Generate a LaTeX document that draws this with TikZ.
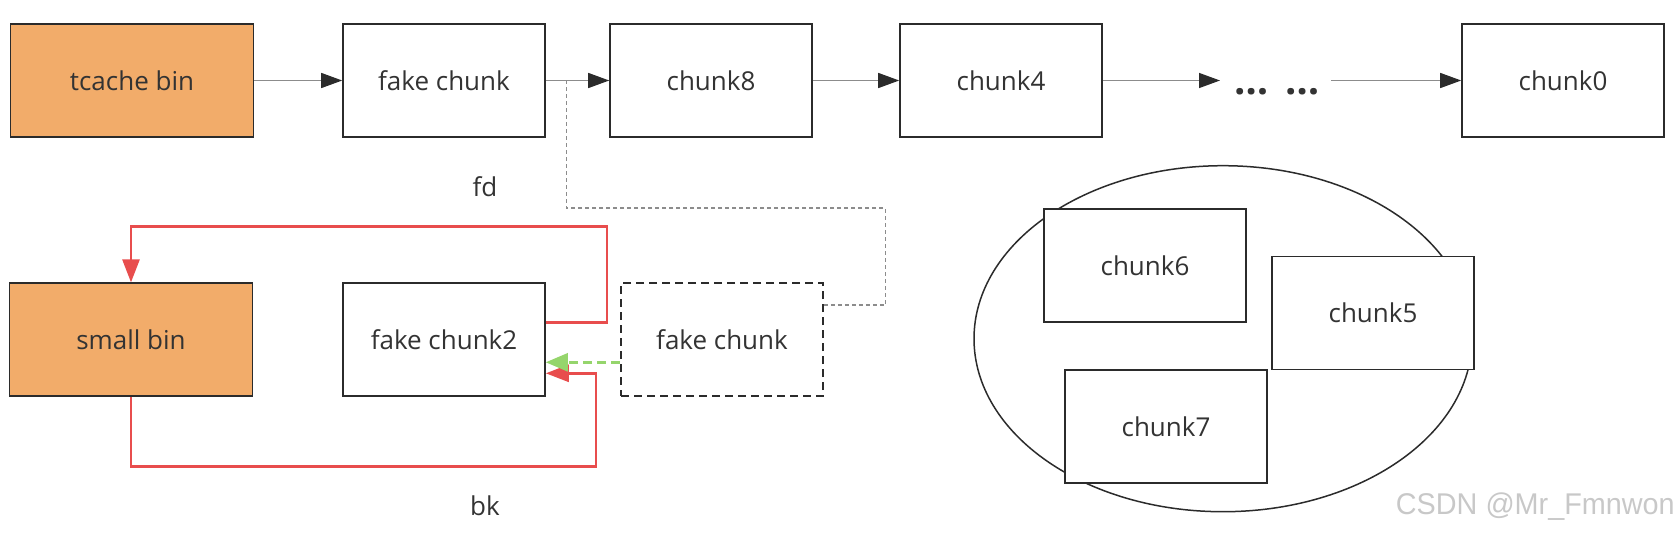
\documentclass[tikz,border=0pt]{standalone}
\usepackage{fontspec}
\setmainfont{Open Sans}
\newfontfamily\wmfont{Liberation Sans}
\usetikzlibrary{arrows.meta,calc}
\definecolor{boxline}{HTML}{2B2B2B}
\definecolor{binfill}{HTML}{F2AC6A}
\definecolor{txt}{HTML}{333333}
\definecolor{lgray}{HTML}{8C8C8C}
\definecolor{redc}{HTML}{E84D4D}
\definecolor{greenc}{HTML}{95D56C}
\definecolor{wm}{HTML}{C8C8C8}
\tikzset{
  cbox/.style={draw=boxline, line width=1.6pt, fill=white, minimum width=202pt, minimum height=113pt, inner sep=0pt, text=txt, font=\fontsize{26}{30}\selectfont},
  binbox/.style={cbox, fill=binfill, minimum width=243pt},
  dbox/.style={cbox, dashed, dash pattern=on 8pt off 5pt},
  arr/.style={draw=lgray, line width=1.4pt, -{Triangle[length=21pt,width=15pt,fill=boxline,color=boxline]}},
  dline/.style={draw=lgray, line width=1.2pt, dash pattern=on 4pt off 3pt},
  redarr/.style={draw=redc, line width=2.6pt, -{Triangle[length=23pt,width=17pt]}},
  greenarr/.style={draw=greenc, line width=2.6pt, dash pattern=on 9pt off 5pt, -{Triangle[length=22pt,width=18pt,sep=0pt]}},
  lbl/.style={text=txt, font=\fontsize{26}{30}\selectfont, inner sep=0pt}
}
\begin{document}
\begin{tikzpicture}[x=1pt,y=-1pt]
\useasboundingbox (0,0) rectangle (1676,536);
% ellipse first
\draw[boxline, line width=1.5pt] (1223,338.7) ellipse [x radius=249pt, y radius=173pt];
% top row
\node[binbox] (tcache) at (132,80.5) {tcache bin};
\node[cbox] (fake) at (444,80.5) {fake chunk};
\node[cbox] (chunk8) at (711,80.5) {chunk8};
\node[cbox] (chunk4) at (1001,80.5) {chunk4};
\node[cbox] (chunk0) at (1563,80.5) {chunk0};
\node[text=txt, font=\fontsize{40}{40}\selectfont\bfseries, inner sep=0pt] (dots) at (1277,92) {…\hspace{16pt}…};
\coordinate (dA) at (1220,80.5);
\coordinate (dB) at (1331,80.5);
% bottom row
\node[binbox] (smallbin) at (131,339.7) {small bin};
\node[cbox] (fake2) at (444,339.7) {fake chunk2};
\node[dbox] (fakeD) at (722,339.7) {fake chunk};
% ellipse members
\node[cbox] (chunk6) at (1145,265.3) {chunk6};
\node[cbox] (chunk5) at (1373,313) {chunk5};
\node[cbox] (chunk7) at (1166,426.3) {chunk7};
% labels
\node[lbl] (fd) at (485,187) {fd};
\node[lbl] (bk) at (485,506) {bk};
\node[text=wm, font=\wmfont\fontsize{30}{30}\selectfont, inner sep=0pt, anchor=east, xscale=0.96] (wmark) at (1675,507) {CSDN @Mr\_Fmnwon};
% connectors
\coordinate (j1) at (885.5,208);
\coordinate (j2) at (566.7,80.5);
\draw[dline] ($(fakeD.east)+(0,-34.7)$) -| (j1) -| (j2) -- (chunk8.west);
\draw[arr] (tcache.east) -- (fake.west);
\draw[arr] (fake.east) -- (chunk8.west);
\draw[arr] (chunk8.east) -- (chunk4.west);
\draw[arr] (chunk4.east) -- (dA);
\draw[arr] (dB) -- (chunk0.west);
% red
\coordinate (r1) at (607,226.7);
\coordinate (r2) at (596,466.7);
\draw[redarr] ($(fake2.east)+(0,-17.4)$) -| (r1) -| (smallbin.north);
\draw[redarr] (smallbin.south) |- (r2) |- ($(fake2.east)+(0,33.6)$);
% green
\draw[greenarr] ($(fakeD.west)+(0,22.6)$) -- ($(fake2.east)+(0,22.6)$);
\end{tikzpicture}
\end{document}
